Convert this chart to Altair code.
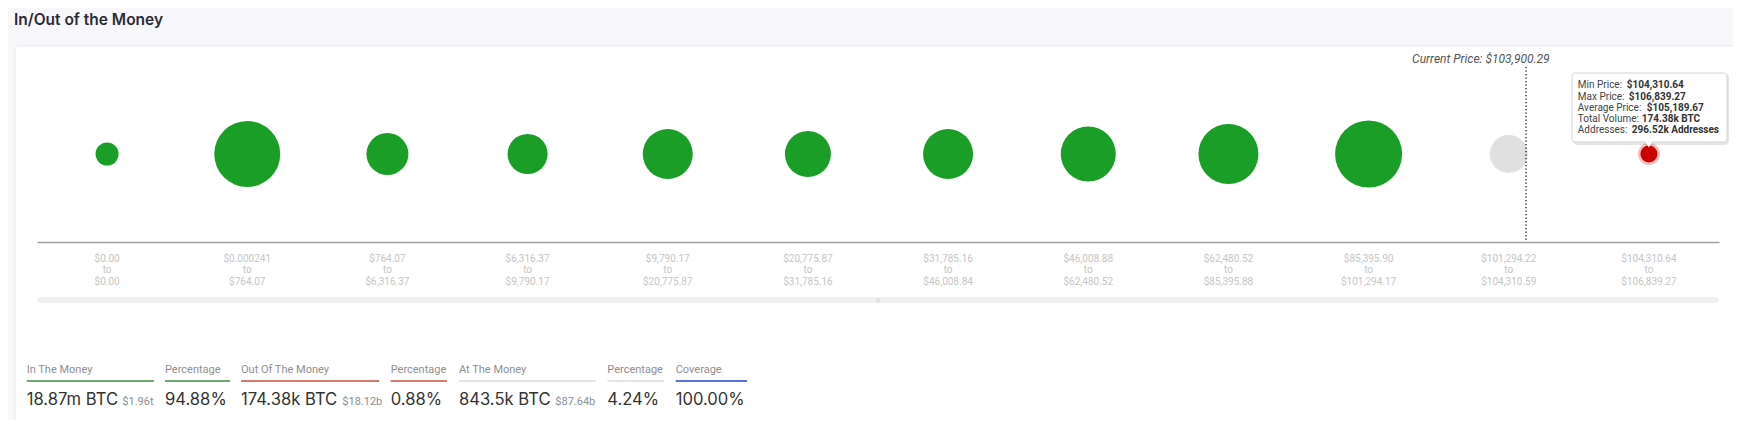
import altair as alt
import pandas as pd

# ---------------- data ----------------
RANGE_LOW = ["$0.00", "$0.000241", "$764.07", "$6,316.37", "$9,790.17", "$20,775.87",
             "$31,785.16", "$46,008.88", "$62,480.52", "$85,395.90", "$101,294.22", "$104,310.64"]
RANGE_HIGH = ["$0.00", "$764.07", "$6,316.37", "$9,790.17", "$20,775.87", "$31,785.16",
              "$46,008.84", "$62,480.52", "$85,395.88", "$101,294.17", "$104,310.59", "$106,839.27"]
ZONE = ["in"] * 10 + ["at", "out"]
# bubble size (thousand addresses)
ADDRESSES_K = [543, 4469, 1810, 1642, 2565, 2171, 2565, 3104, 3694, 4606, 1482, 296.52]

CURRENT_PRICE = "Current Price: $103,900.29"

TIP_LABELS = ["Min Price:", "Max Price:", "Average Price:", "Total Volume:", "Addresses:"]
TIP_VALUES = ["$104,310.64", "$106,839.27", "$105,189.67", "174.38k BTC", "296.52k Addresses"]

STAT_LABELS = ["In The Money", "Percentage", "Out Of The Money", "Percentage",
               "At The Money", "Percentage", "Coverage"]
STAT_VALUES = ["18.87m BTC", "94.88%", "174.38k BTC", "0.88%", "843.5k BTC", "4.24%", "100.00%"]
STAT_USD = ["$1.96t", "", "$18.12b", "", "$87.64b", "", ""]

# ---------------- style ----------------
ZONE_COLORS = ["#1a9e28", "#e0e0e0", "#cc0000"]
STAT_X0 = [18.7, 157, 233, 382.7, 451, 599.3, 667.7]
STAT_X1 = [146, 222, 371, 439, 587.7, 656, 739]
STAT_USD_X = [114.3, 0, 334.3, 0, 547.3, 0, 0]
STAT_LINE_COLORS = ["#3a8d3f", "#3a8d3f", "#c94b3d", "#c94b3d", "#dedede", "#dedede", "#2342cf"]
TIP_VALUE_DX = [48, 50, 68, 63, 53]
TIP_Y = [77, 88.5, 99.8, 111, 122.3]
CURRENT_BAND_POS = 0.623
CURRENT_TEXT_DX = 111
FONT = "Roboto"

CATS = [f"{lo} to {hi}" for lo, hi in zip(RANGE_LOW, RANGE_HIGH)]
df = pd.DataFrame({"cat": CATS, "zone": ZONE, "addr": ADDRESSES_K})
df_out = df[df["zone"] == "out"]
df_cur = df[df["zone"] == "at"]

X_SCALE = alt.Scale(type="band", domain=CATS, range=[29, 1711], paddingInner=0, paddingOuter=0)
SIZE_SCALE = alt.Scale(domain=[0, 4606], range=[0, 4489])

def X(**kw):
    return alt.X("cat:N", sort=CATS, scale=X_SCALE, **kw)

one = pd.DataFrame({"k": [0]})

# background card + header
card = alt.Chart(one).mark_rect(fill="white", stroke="#e9e9ee", strokeWidth=1, cornerRadius=4).encode(
    x=alt.value(7), x2=alt.value(1745), y=alt.value(38), y2=alt.value(430))
header = alt.Chart(pd.DataFrame({"t": ["In/Out of the Money"]})).mark_text(
    align="left", baseline="middle", font="Inter", fontSize=15.5, fontWeight=600, color="#2b2b36"
).encode(x=alt.value(6), y=alt.value(12), text="t:N")

# scrollbar
scroll = alt.Chart(one).mark_rect(fill="#f0f0f0", cornerRadius=3).encode(
    x=alt.value(29), x2=alt.value(1711), y=alt.value(289), y2=alt.value(295))
grip = alt.Chart(pd.DataFrame({"t": ["|||"]})).mark_text(
    fontSize=5, color="#c8c8c8", baseline="middle").encode(x=alt.value(870), y=alt.value(292), text="t:N")

# bubbles (first layer with the x axis)
bubbles = alt.Chart(df).mark_circle(opacity=1).encode(
    x=X(axis=alt.Axis(
        title=None, ticks=False, tickSize=0, labelAngle=0, labelOverlap=False, labelLimit=0,
        labelExpr="[split(datum.label, ' to ')[0], 'to', split(datum.label, ' to ')[1]]",
        labelFont=FONT, labelFontSize=10, labelColor="#c6c6c6", labelLineHeight=11.5,
        labelPadding=11, labelBaseline="top", zindex=1,
        domainColor="#9e9e9e", domainWidth=1.5, grid=False)),
    y=alt.value(146),
    size=alt.Size("addr:Q", scale=SIZE_SCALE, legend=None),
    color=alt.Color("zone:N", scale=alt.Scale(domain=["in", "at", "out"], range=ZONE_COLORS), legend=None),
)
halo = alt.Chart(df_out).mark_point(shape="circle", filled=False, stroke="#cc0000",
                                     strokeWidth=5, opacity=0.25).encode(
    x=X(), y=alt.value(146),
    size=alt.Size("addr:Q", scale=SIZE_SCALE, legend=None))

# current price marker
cur_rule = alt.Chart(df_cur).mark_rule(color="#333333", strokeWidth=1.5, strokeDash=[1.2, 2.3]).encode(
    x=X(bandPosition=CURRENT_BAND_POS), y=alt.value(59), y2=alt.value(234))
cur_text = alt.Chart(df_cur.assign(t=CURRENT_PRICE)).mark_text(
    align="right", baseline="middle", font=FONT, fontSize=12, fontStyle="italic", color="#555555",
    dx=CURRENT_TEXT_DX
).encode(x=X(bandPosition=0), y=alt.value(51), text="t:N")

# tooltip
tip_shadow = alt.Chart(one).mark_rect(fill="#000000", opacity=0.10, cornerRadius=4).encode(
    x=alt.value(1565), x2=alt.value(1721), y=alt.value(66), y2=alt.value(137))
tip_box = alt.Chart(one).mark_rect(fill="white", stroke="#d6d6d6", strokeWidth=1, cornerRadius=3).encode(
    x=alt.value(1564), x2=alt.value(1719), y=alt.value(65), y2=alt.value(134))
tip_arrow = alt.Chart(df_out).mark_point(shape="triangle-down", filled=True, fill="white",
                                          opacity=1, size=45).encode(
    x=X(), y=alt.value(136.5))
tip_df = pd.DataFrame({"cat": [CATS[-1]] * 5, "lab": TIP_LABELS, "val": TIP_VALUES})
tip_layers = []
for i in range(5):
    row = tip_df.iloc[[i]]
    tip_layers.append(alt.Chart(row).mark_text(
        align="left", baseline="middle", font=FONT, fontSize=10, color="#444444", dx=-1
    ).encode(x=X(bandPosition=0), y=alt.value(TIP_Y[i]), text="lab:N"))
    tip_layers.append(alt.Chart(row).mark_text(
        align="left", baseline="middle", font=FONT, fontSize=10, fontWeight="bold", color="#333333",
        dx=TIP_VALUE_DX[i]
    ).encode(x=X(bandPosition=0), y=alt.value(TIP_Y[i]), text="val:N"))

# summary statistics
stat_layers = []
for i in range(len(STAT_LABELS)):
    row = pd.DataFrame({"label": [STAT_LABELS[i]], "value": [STAT_VALUES[i]], "usd": [STAT_USD[i]]})
    stat_layers.append(alt.Chart(row).mark_text(
        align="left", baseline="alphabetic", font=FONT, fontSize=11, color="#8f8f8f"
    ).encode(x=alt.value(STAT_X0[i]), y=alt.value(364.5), text="label:N"))
    stat_layers.append(alt.Chart(row).mark_rule(strokeWidth=1.5, color=STAT_LINE_COLORS[i]).encode(
        x=alt.value(STAT_X0[i]), x2=alt.value(STAT_X1[i]), y=alt.value(373)))
    stat_layers.append(alt.Chart(row).mark_text(
        align="left", baseline="alphabetic", font="Inter", fontSize=16.6, color="#333333"
    ).encode(x=alt.value(STAT_X0[i]), y=alt.value(397), text="value:N"))
    if STAT_USD[i]:
        stat_layers.append(alt.Chart(row).mark_text(
            align="left", baseline="alphabetic", font=FONT, fontSize=11, color="#8a9099"
        ).encode(x=alt.value(STAT_USD_X[i]), y=alt.value(397), text="usd:N"))

chart = alt.layer(
    card, header, scroll, grip, bubbles, halo, cur_rule, cur_text,
    tip_shadow, tip_box, tip_arrow, *tip_layers, *stat_layers
).properties(
    width=1725, height=234,
    padding={"left": 0, "top": 0, "right": 0, "bottom": 178},
    autosize=alt.AutoSizeParams(type="none"),
    background="#f8f8fa",
).configure_view(stroke=None)

chart.save("out.html", embed_options={"renderer": "svg", "actions": False})
